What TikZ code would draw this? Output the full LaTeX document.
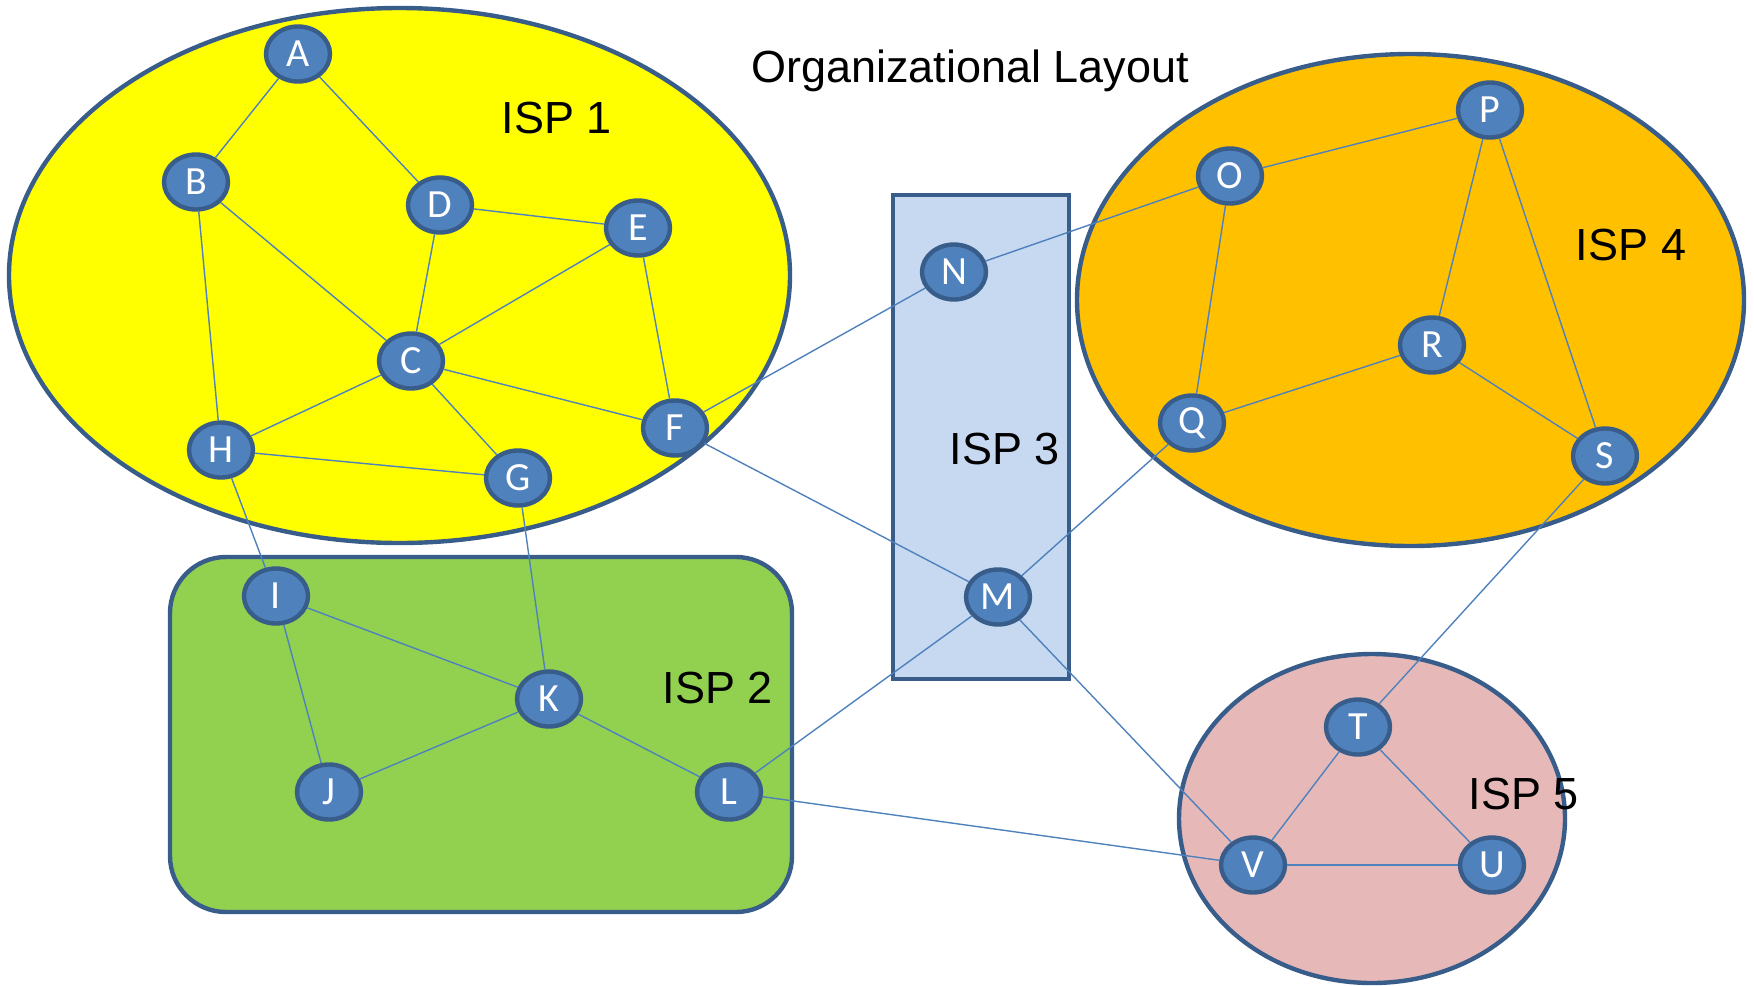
\documentclass[tikz,border=0pt]{standalone}
\usepackage{fontspec}
\setmainfont{Liberation Sans}
\newfontfamily\nodefont{Carlito}
\usetikzlibrary{shapes.geometric}

\definecolor{nodefill}{HTML}{4F81BD}
\definecolor{nodeline}{HTML}{385D8A}
\definecolor{edgeblue}{HTML}{4F81BD}
\definecolor{ispone}{HTML}{FFFF00}
\definecolor{isptwo}{HTML}{92D050}
\definecolor{ispthree}{HTML}{C6D9F1}
\definecolor{ispfour}{HTML}{FFC000}
\definecolor{ispfive}{HTML}{E6B9B8}

\tikzset{
  router/.style={ellipse, draw=nodeline, fill=nodefill, line width=2.2pt,
    minimum width=32pt, minimum height=27.5pt, inner sep=0pt,
    text=white, font=\nodefont\fontsize{20}{24}\selectfont},
  ispzone/.style={draw=nodeline, line width=2.2pt},
  isplabel/.style={font=\fontsize{22.5}{27}\selectfont, text=black, inner sep=0pt},
  link/.style={draw=edgeblue, line width=0.7pt},
}

\begin{document}
\begin{tikzpicture}[x=0.5pt,y=-0.5pt]
\useasboundingbox (0,0) rectangle (1754,985);

% provider zones
\draw[ispzone, fill=ispone] (399.5,275.5) ellipse [x radius=195.25pt, y radius=133.75pt];
\draw[ispzone, fill=isptwo, rounded corners=28pt] (170,557) rectangle (792,912);
\draw[ispzone, fill=ispthree] (893,195) rectangle (1069,679);
\draw[ispzone, fill=ispfour] (1410.5,300) ellipse [x radius=166.75pt, y radius=123pt];
\draw[ispzone, fill=ispfive] (1372,818.5) ellipse [x radius=96.5pt, y radius=82.25pt];

% routers
\begin{scope}[every node/.style={router}]
\node (A) at (298,54) {A};
\node (B) at (196,182) {B};
\node (D) at (440,205) {D};
\node (E) at (638,228) {E};
\node (C) at (411,361) {C};
\node (F) at (675,428) {F};
\node (H) at (221,450) {H};
\node (G) at (518,478) {G};
\node (I) at (276,596) {I};
\node (K) at (549,699) {K};
\node (J) at (329,792) {J};
\node (L) at (729,792) {L};
\node (N) at (954,272) {N};
\node (M) at (998,597) {M};
\node (O) at (1230,176) {O};
\node (P) at (1490,110) {P};
\node (R) at (1432,345) {R};
\node (Q) at (1192,423) {Q};
\node (S) at (1605,456) {S};
\node (T) at (1358,727) {T};
\node (V) at (1253,865) {V};
\node (U) at (1492,865) {U};
\end{scope}

% links between routers
\foreach \a/\b in {A/B, A/D, B/C, B/H, D/C, D/E, E/C, E/F, C/F, C/H, C/G, H/G,
                   H/I, G/K, F/N, F/M, I/K, I/J, K/J, K/L, L/M, L/V, M/Q, M/V,
                   N/O, O/P, O/Q, P/R, P/S, R/Q, R/S, S/T, T/V, T/U, V/U}
  \path[link] (\a) -- (\b);

% labels
\node[isplabel] (title) at (970,71) {Organizational Layout};
\node[isplabel] (isp1) at (557,118) {ISP 1};
\node[isplabel] (isp2) at (718,688) {ISP 2};
\node[isplabel] (isp3) at (1005,449) {ISP 3};
\node[isplabel] (isp4) at (1631,245) {ISP 4};
\node[isplabel] (isp5) at (1524,794) {ISP 5};
\end{tikzpicture}
\end{document}
